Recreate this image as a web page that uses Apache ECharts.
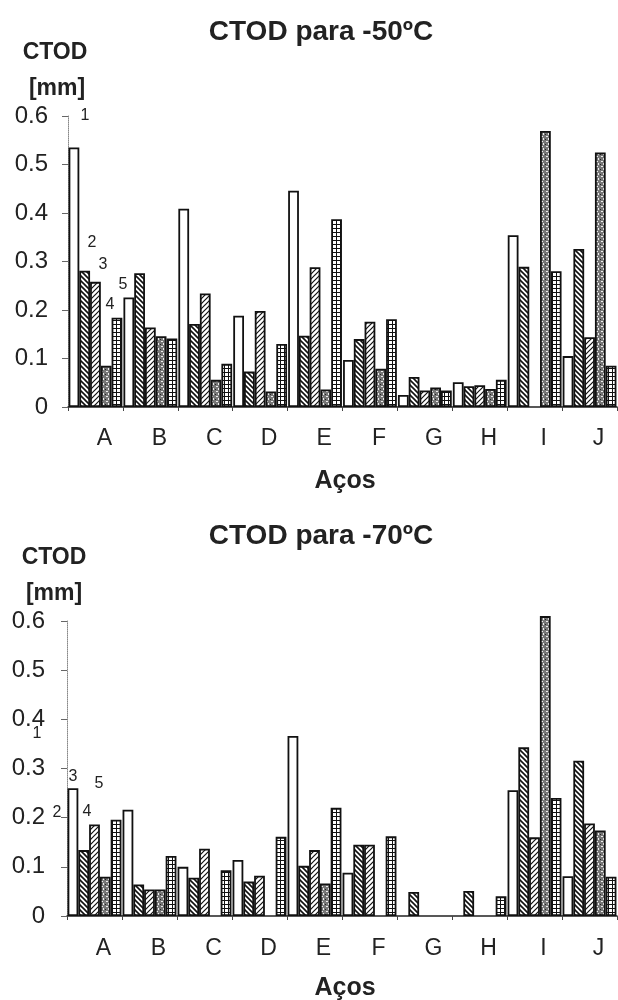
<!DOCTYPE html>
<html>
<head>
<meta charset="utf-8">
<script src="https://cdn.jsdelivr.net/npm/echarts@6/dist/echarts.min.js"></script>
<style>
  html, body { margin: 0; padding: 0; background: #fff; }
  #main { width: 618px; height: 1000px; }
</style>
</head>
<body>
<div id="main"></div>
<script>
// categorias (aços)
var categories = ['A', 'B', 'C', 'D', 'E', 'F', 'G', 'H', 'I', 'J'];
var yTicks = [0, 0.1, 0.2, 0.3, 0.4, 0.5, 0.6];

// CTOD para -50ºC, corpos de prova 1..5
var ctod50_1 = [0.535, 0.226, 0.409, 0.188, 0.446, 0.097, 0.025, 0.051, 0.354, 0.105];
var ctod50_2 = [0.281, 0.276, 0.171, 0.073, 0.147, 0.140, 0.062, 0.043, 0.289, 0.326];
var ctod50_3 = [0.258, 0.164, 0.234, 0.198, 0.288, 0.176, 0.034, 0.045, null, 0.144];
var ctod50_4 = [0.085, 0.146, 0.056, 0.032, 0.036, 0.079, 0.040, 0.037, 0.569, 0.525];
var ctod50_5 = [0.184, 0.141, 0.089, 0.130, 0.387, 0.181, 0.034, 0.056, 0.280, 0.085];

// CTOD para -70ºC
var ctod70_1 = [0.260, 0.216, 0.100, 0.114, 0.366, 0.088, null, null, 0.256, 0.081];
var ctod70_2 = [0.134, 0.064, 0.078, 0.070, 0.102, 0.145, 0.049, 0.051, 0.343, 0.316];
var ctod70_3 = [0.186, 0.054, 0.137, 0.082, 0.134, 0.145, null, null, 0.160, 0.188];
var ctod70_4 = [0.080, 0.054, null, null, 0.066, null, null, null, 0.610, 0.174];
var ctod70_5 = [0.196, 0.122, 0.093, 0.161, 0.220, 0.162, null, 0.040, 0.240, 0.080];

// hachuras desenhadas num canvas pequeno
function makePattern(kind) {
  var c = document.createElement('canvas');
  var s = kind === 'grid' ? 4 : 5;
  c.width = s; c.height = s;
  var g = c.getContext('2d');
  g.fillStyle = '#fff';
  g.fillRect(0, 0, s, s);
  g.strokeStyle = '#111';
  if (kind === 'back') {
    g.lineWidth = 1.6;
    g.beginPath();
    g.moveTo(-1, -1); g.lineTo(s + 1, s + 1);
    g.moveTo(-1, s - 1); g.lineTo(1, s + 1);
    g.moveTo(s - 1, -1); g.lineTo(s + 1, 1);
    g.stroke();
  } else if (kind === 'fwd') {
    g.lineWidth = 1.2;
    g.beginPath();
    g.moveTo(-1, s + 1); g.lineTo(s + 1, -1);
    g.moveTo(-1, 1); g.lineTo(1, -1);
    g.moveTo(s - 1, s + 1); g.lineTo(s + 1, s - 1);
    g.stroke();
  } else if (kind === 'cross') {
    g.fillStyle = '#777';
    g.fillRect(0, 0, s, s);
    g.fillStyle = '#eee';
    g.fillRect(1, 1, 2, 1);
    g.fillRect(3, 3, 1, 2);
    g.fillStyle = '#222';
    g.fillRect(0, 4, 1, 1);
  } else if (kind === 'grid') {
    g.fillStyle = '#111';
    g.fillRect(0, 0, s, 1);
    g.fillRect(0, 0, 1, s);
  }
  return { image: c, repeat: 'repeat' };
}

var fills = ['#fff', makePattern('back'), makePattern('fwd'), makePattern('cross'), makePattern('grid')];
var data50 = [ctod50_1, ctod50_2, ctod50_3, ctod50_4, ctod50_5];
var data70 = [ctod70_1, ctod70_2, ctod70_3, ctod70_4, ctod70_5];

var series = [];
[data50, data70].forEach(function (set, gi) {
  set.forEach(function (vals, i) {
    series.push({
      type: 'bar',
      name: String(i + 1),
      xAxisIndex: gi,
      yAxisIndex: gi,
      data: vals,
      barGap: '0%',
      barCategoryGap: '2%',
      clip: false,
      itemStyle: { color: fills[i], borderColor: '#111', borderWidth: 1.8 },
      emphasis: { disabled: true }
    });
  });
});

function xAxisFor(gi, margin) {
  return {
    type: 'category', gridIndex: gi, data: categories,
    axisLine: { lineStyle: { color: '#222', width: 1.5 } },
    axisTick: { show: true, length: 4, lineStyle: { color: '#444' } },
    axisLabel: { color: '#222', fontSize: 23, fontFamily: 'Liberation Sans, Arial', margin: margin, padding: [0, 0, 0, 18] }
  };
}
function yAxisFor(gi, margin) {
  return {
    type: 'value', gridIndex: gi, min: yTicks[0], max: yTicks[yTicks.length - 1], interval: 0.1,
    axisLine: { show: true, lineStyle: { color: '#888', width: 1, type: 'dotted' } },
    axisTick: { show: true, length: 6, lineStyle: { color: '#666' } },
    splitLine: { show: false },
    axisLabel: {
      color: '#222', fontSize: 24, fontFamily: 'Liberation Sans, Arial', margin: margin,
      formatter: function (v) { return v === 0 ? '0' : v.toFixed(1); }
    }
  };
}

var txt = function (x, y, s, size, bold) {
  return {
    type: 'text', x: x, y: y,
    style: {
      text: s, fill: '#222', align: 'center', verticalAlign: 'middle',
      font: (bold ? 'bold ' : '') + size + 'px "Liberation Sans", Arial'
    }
  };
};

var chart = echarts.init(document.getElementById('main'));
chart.setOption({
  backgroundColor: '#fff',
  animation: false,
  title: [
    { text: 'CTOD para -50ºC', left: 316, top: 13, textAlign: 'center',
      textStyle: { fontSize: 28, fontWeight: 'bold', color: '#222', fontFamily: 'Liberation Sans, Arial' } },
    { text: 'CTOD para -70ºC', left: 316, top: 517, textAlign: 'center',
      textStyle: { fontSize: 28, fontWeight: 'bold', color: '#222', fontFamily: 'Liberation Sans, Arial' } }
  ],
  grid: [
    { left: 68, top: 116, width: 549, height: 291 },
    { left: 67, top: 621, width: 550, height: 295 }
  ],
  xAxis: [xAxisFor(0, 20), xAxisFor(1, 21)],
  yAxis: [yAxisFor(0, 20), yAxisFor(1, 22)],
  series: series,
  graphic: [
    txt(55, 53, 'CTOD', 23, true),
    txt(57, 89, '[mm]', 23, true),
    txt(345, 481, 'Aços', 25, true),
    txt(54, 558, 'CTOD', 23, true),
    txt(54, 594, '[mm]', 23, true),
    txt(345, 988, 'Aços', 25, true),
    // números dos corpos de prova
    txt(85, 116, '1', 16), txt(92, 243, '2', 16), txt(103, 265, '3', 16),
    txt(110, 305, '4', 16), txt(123, 285, '5', 16),
    txt(37, 734, '1', 16), txt(57, 813, '2', 16), txt(73, 777, '3', 16),
    txt(87, 812, '4', 16), txt(99, 784, '5', 16)
  ]
});
</script>
</body>
</html>
